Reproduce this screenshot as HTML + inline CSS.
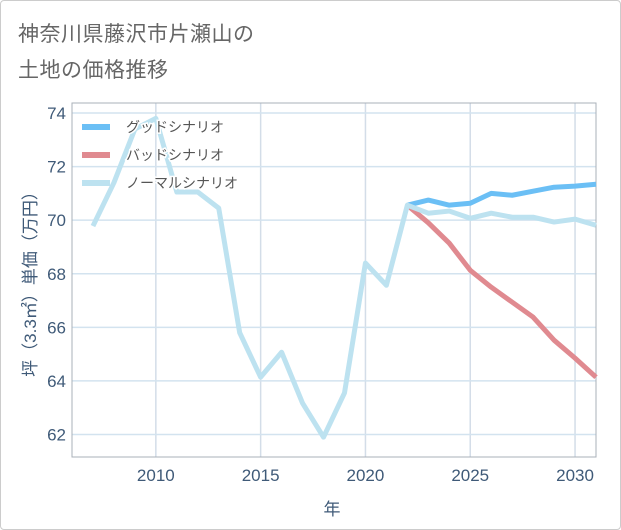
<!DOCTYPE html>
<html><head><meta charset="utf-8">
<style>
body{margin:0;background:#fff;}
#card{position:absolute;left:0;top:0;width:619px;height:528px;border:1px solid #ccc;border-radius:4px;background:#fff;}
#title{position:absolute;left:17px;top:16px;font:21px "Liberation Sans","Noto Sans CJK JP",sans-serif;color:#666;line-height:36px;letter-spacing:0.5px;}
svg text{font-family:"Liberation Sans","Noto Sans CJK JP",sans-serif;}
</style></head><body>
<div id="card">
<div id="title">神奈川県藤沢市片瀬山の<br>土地の価格推移</div>
</div>
<svg id="chart" width="621" height="530" style="position:absolute;left:0;top:0"></svg>
<script>
const years=[2007,2008,2009,2010,2011,2012,2013,2014,2015,2016,2017,2018,2019,2020,2021,2022,2023,2024,2025,2026,2027,2028,2029,2030,2031];
const normalValues=[69.78,71.4,73.4,73.8,71.05,71.05,70.45,65.8,64.14,65.07,63.17,61.9,63.55,68.4,67.57,70.56,70.26,70.34,70.07,70.26,70.11,70.11,69.93,70.04,69.81];
const goodYears=[2022,2023,2024,2025,2026,2027,2028,2029,2030,2031];
const goodValues=[70.56,70.75,70.56,70.63,71.0,70.93,71.08,71.23,71.27,71.34];
const badValues=[70.56,69.9,69.14,68.13,67.5,66.94,66.38,65.52,64.85,64.14];
const xTicks=[2010,2015,2020,2025,2030];
const yTicks=[62,64,66,68,70,72,74];
const legendLabels=["グッドシナリオ","バッドシナリオ","ノーマルシナリオ"];

const NS="http://www.w3.org/2000/svg";
const svg=document.getElementById('chart');
const L=72,R=596,T=103,B=457;
const x=y=>L+(y-2006)*(R-L)/25;
const yv=v=>113+(74-v)*(434.5-113)/12;
function mk(tag,attrs,parent){const e=document.createElementNS(NS,tag);for(const k in attrs)e.setAttribute(k,attrs[k]);(parent||svg).appendChild(e);return e;}

const grid=mk('g',{});


xTicks.forEach(t=>{
  const l=mk('line',{x1:x(t),x2:x(t),y1:T,y2:B,stroke:'#d3dde8','stroke-width':1.5},grid);
  
  
  const tx=mk('text',{x:x(t),y:481,'text-anchor':'middle','font-size':17,fill:'#3f5a78'});
  tx.textContent=t;
  
  
});
yTicks.forEach(t=>{
  const l=mk('line',{x1:L,x2:R,y1:yv(t),y2:yv(t),stroke:'#d3e3ef','stroke-width':1.5},grid);
  
  
  const tx=mk('text',{x:66,y:yv(t)+6,'text-anchor':'end','font-size':17,fill:'#3f5a78'});
  tx.textContent=t;
  
  
});
const frame=mk('path',{d:`M${L} ${T}H${R}V${B}H${L}Z`,fill:'none',stroke:'#aab0b8','stroke-width':1});



function line(xs,vs,color,name){
  const p=mk('polyline',{points:xs.map((t,i)=>x(t)+','+yv(vs[i])).join(' '),fill:'none',stroke:color,'stroke-width':5,'stroke-linejoin':'round'});
  
  
}
line(goodYears,goodValues,'#6bbff5','good-scenario-line');
line(goodYears,badValues,'#e08a90','bad-scenario-line');
line(years,normalValues,'#bde2f0','normal-scenario-line');

const lg=mk('g',{});


const lcol=['#6bbff5','#e08a90','#bde2f0'];
legendLabels.forEach((s,i)=>{
  const yy=127+i*28;
  const sw=mk('line',{x1:82,x2:110,y1:yy,y2:yy,stroke:lcol[i],'stroke-width':6},lg);
  
  
  const t=mk('text',{x:126,y:yy+5,'font-size':14,fill:'#555',stroke:'#fff','stroke-width':3,'paint-order':'stroke'},lg);
  t.textContent=s;
  
  
});

const xt=mk('text',{x:332,y:515,'text-anchor':'middle','font-size':17,fill:'#3f5a78'});
xt.textContent='年';


const yt=mk('text',{x:0,y:0,'text-anchor':'middle','font-size':17,fill:'#3f5a78',transform:'translate(36,280) rotate(-90)'});
yt.textContent='坪（3.3㎡）単価（万円）';


</script>
</body></html>
